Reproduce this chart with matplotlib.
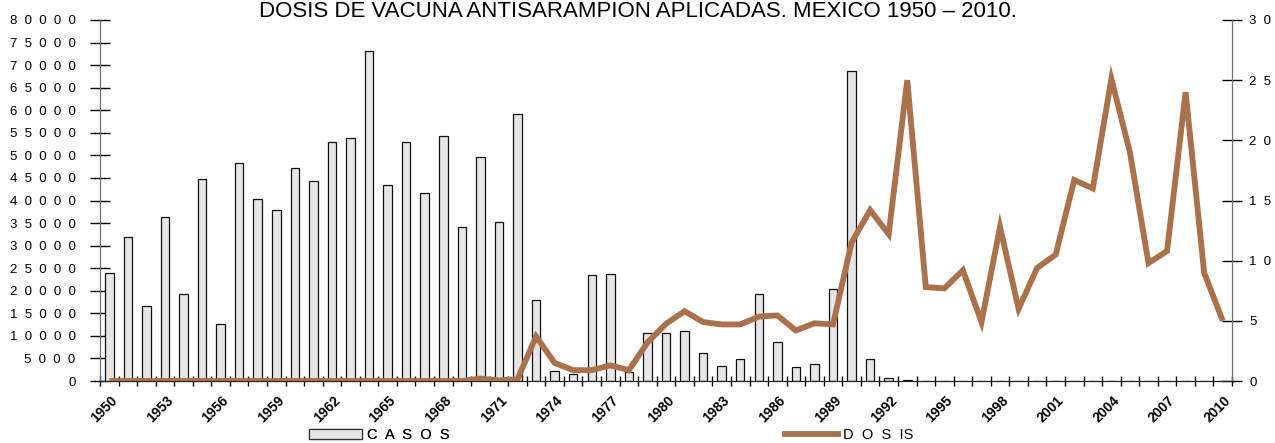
import matplotlib
matplotlib.use("Agg")
import matplotlib.pyplot as plt
import matplotlib.transforms as mtransforms
from matplotlib.patches import Patch
from matplotlib.lines import Line2D

plt.rcParams['font.family'] = ['Liberation Sans', 'DejaVu Sans']

# years 1950 - 2010
years = list(range(1950, 2011))

# measles cases (left axis)
casos = [23900, 32000, 16600, 36300, 19300, 44800, 12600, 48300, 40300, 38000,
         47300, 44300, 53000, 53900, 73100, 43500, 53000, 41600, 54400, 34200,
         49600, 35300, 59200, 18000, 2300, 1500, 23500, 23700, 2000, 10600,
         10600, 11100, 6300, 3400, 4900, 19300, 8600, 3000, 3700, 20400,
         68800, 4900, 600, 150, 0, 0, 0, 0, 0, 0,
         0, 0, 0, 0, 0, 0, 0, 0, 0, 0,
         0]

# vaccine doses applied (right axis, millions)
dosis = [0, 0, 0, 0, 0, 0, 0, 0, 0, 0,
         0, 0, 0, 0, 0, 0, 0, 0, 0, 0,
         0.2, 0.05, 0.15, 3.7, 1.5, 0.9, 0.9, 1.3, 0.9, 3.2,
         4.75, 5.8, 4.9, 4.7, 4.7, 5.35, 5.45, 4.2, 4.8, 4.7,
         11.5, 14.2, 12.2, 25.0, 7.8, 7.7, 9.2, 4.9, 12.8, 6.0,
         9.4, 10.5, 16.7, 16.0, 25.1, 19.0, 9.8, 10.8, 24.0, 9.0,
         5.0]

left_ticks = list(range(0, 80001, 5000))
right_ticks = [0, 5, 10, 15, 20, 25, 30]
label_years = list(range(1950, 2011, 3))

W, H = 1275, 443
fig = plt.figure(figsize=(W / 100, H / 100), dpi=100)
ax = fig.add_axes([100 / W, 62 / H, 1132 / W, 361 / H])
ax2 = ax.twinx()

x = list(range(len(years)))
ax.bar(x, casos, width=0.46, color='#e6e6e6', edgecolor='#111111', linewidth=0.9, zorder=2)
ax2.plot(x, dosis, color='#ab714b', linewidth=4.2, solid_joinstyle='miter',
         solid_capstyle='butt', zorder=3)

ax.set_xlim(-0.42, 60.47)
ax.set_ylim(0, 80000)
ax2.set_ylim(0, 30)

def spaced(s, sep='  '):
    return sep.join(list(s))

# left axis
ax.set_yticks(left_ticks)
ax.set_yticklabels([spaced(str(v)) for v in left_ticks], fontsize=9.5)
ax.tick_params(axis='y', direction='inout', length=15, width=1, pad=10, colors='black')

# right axis
ax2.set_yticks(right_ticks)
ax2.set_yticklabels([spaced(str(v)) for v in right_ticks], fontsize=9.5)
ax2.tick_params(axis='y', direction='inout', length=15, width=1, pad=5, colors='black')

# category boundary ticks on x, labels every 3 years
ax.set_xticks([k + 0.5 for k in range(-1, 61)], minor=True)
ax.tick_params(axis='x', which='minor', direction='inout', length=7, width=1, color='black')
ax.set_xticks([years.index(y) for y in label_years])
ax.set_xticklabels([str(y) for y in label_years], rotation=45, ha='right',
                   rotation_mode='anchor', fontsize=10, fontweight='bold')
ax.tick_params(axis='x', which='major', length=0, pad=9)
off = mtransforms.ScaledTranslation(1 / 100, 0, fig.dpi_scale_trans)
for lab in ax.get_xticklabels():
    lab.set_transform(lab.get_transform() + off)

for a in (ax, ax2):
    a.spines['top'].set_visible(False)
    a.spines['left'].set_color('#6e6e6e')
    a.spines['right'].set_color('#6e6e6e')
    a.spines['bottom'].set_color('#222222')

fig.text(0.5, 1 - 17 / H, 'DOSIS DE VACUNA ANTISARAMPION APLICADAS. MEXICO 1950 \u2013 2010.',
         ha='center', va='baseline', fontsize=16)

# legend: two entries placed apart, as in the original
leg_kw = dict(frameon=False, fontsize=10.5, handlelength=3.6, handleheight=0.75,
              handletextpad=0.4, borderpad=0, borderaxespad=0, loc='center left')
leg1 = fig.legend([Patch(facecolor='#e6e6e6', edgecolor='#333333', linewidth=0.9)],
                  [spaced('CASOS')], bbox_to_anchor=(309 / W, 1 - 435 / H), **leg_kw)
fig.add_artist(leg1)
fig.legend([Line2D([0], [0], color='#ab714b', linewidth=4.2)],
           ['D  O  S  IS'], bbox_to_anchor=(785 / W, 1 - 435 / H), **leg_kw)

fig.savefig('out.png', dpi=100)
